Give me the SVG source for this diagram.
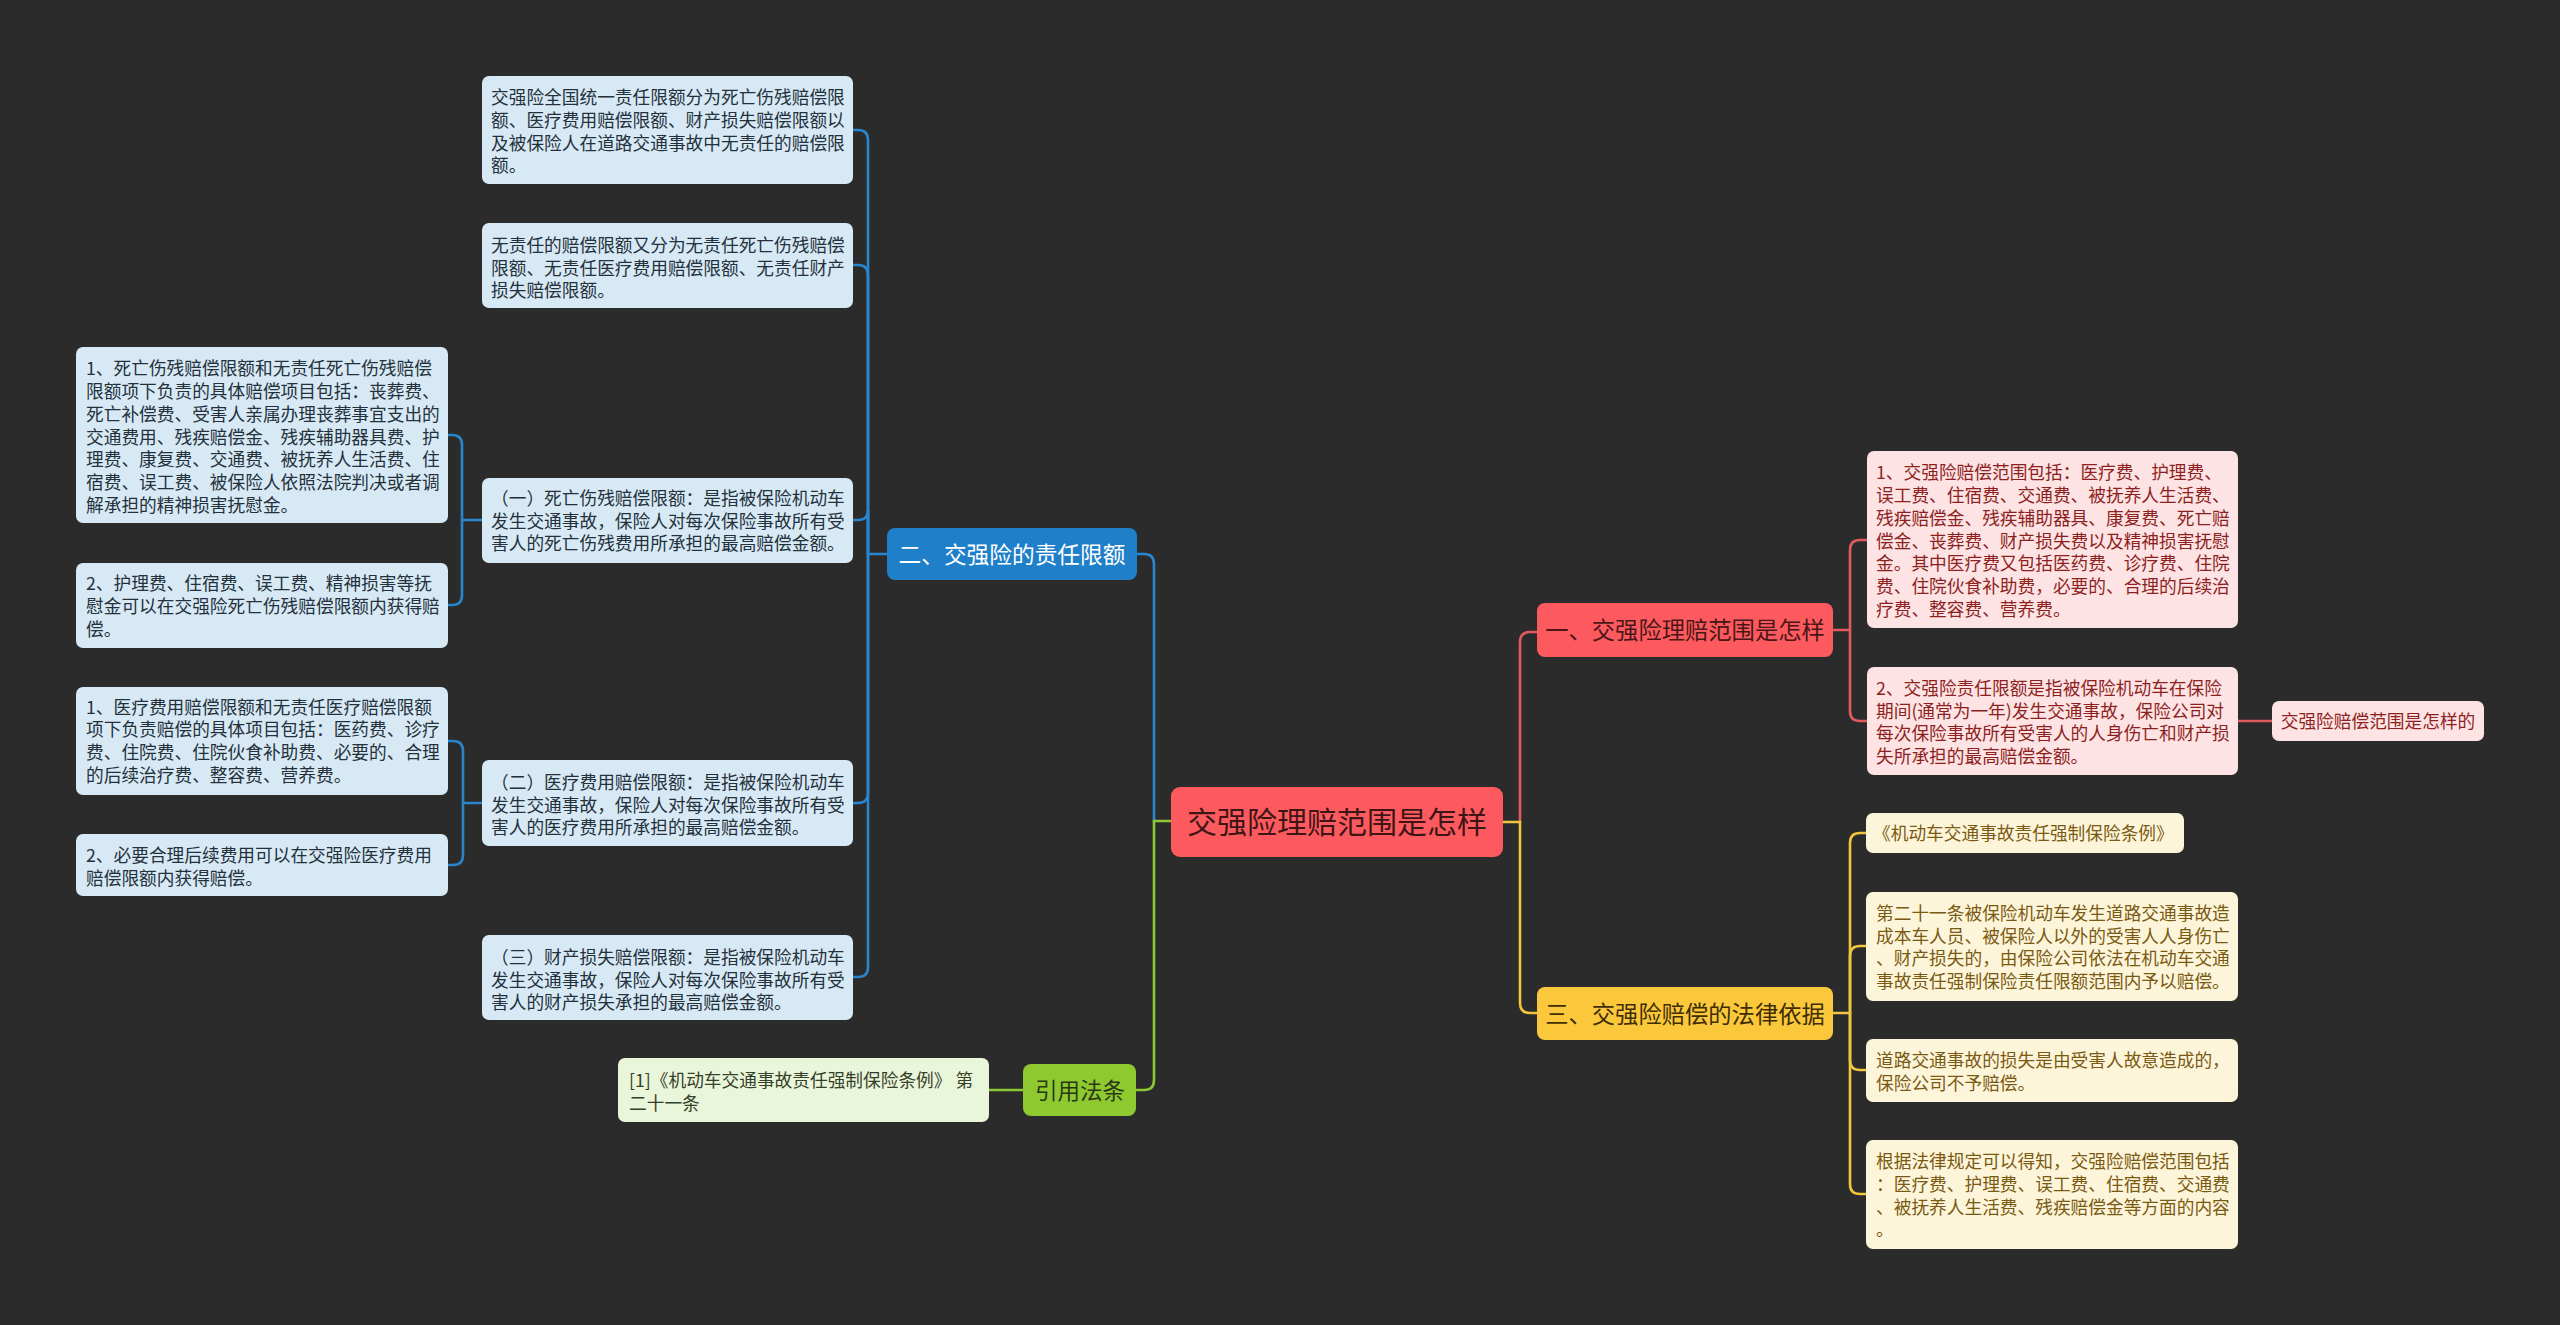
<svg xmlns="http://www.w3.org/2000/svg" width="2560" height="1325" viewBox="0 0 2560 1325">
<style>
text{font-family:"Noto Sans CJK SC","Noto Sans",sans-serif;}
.lf{font-size:17.7px;}
.bl{fill:#d8e9f6;}
.blt{fill:#24313b;}
.rd{fill:#fde3e3;}
.rdt{fill:#8e1f1f;}
.yl{fill:#fdf5da;}
.ylt{fill:#7a5a12;}
.gr{fill:#eaf6d9;}
.grt{fill:#34402a;}
.c{fill:none;stroke-width:2.6;stroke-linecap:round;}
.cb{stroke:#2a86cc;}
.cr{stroke:#e05a5e;}
.cy{stroke:#f2c53f;}
.cg{stroke:#8cc834;}
</style>
<rect x="0" y="0" width="2560" height="1325" fill="#2b2b2b"/>

<g id="connectors">
  <path class="c cb" d="M1154,821 V564 Q1154,554 1144,554 H1137"/>
  <path class="c cg" d="M1171,821 H1154 V1080 Q1154,1090 1144,1090 H1136"/>
  <path class="c cg" d="M1023,1090 H989"/>
  <path class="c cb" d="M887,554 H868 V140 Q868,130 858,130 H853"/>
  <path class="c cb" d="M868,554 V275 Q868,265 858,265 H853"/>
  <path class="c cb" d="M868,554 V510 Q868,520 858,520 H853"/>
  <path class="c cb" d="M868,554 V793 Q868,803 858,803 H853"/>
  <path class="c cb" d="M868,554 V967 Q868,977 858,977 H853"/>
  <path class="c cb" d="M482,520 H462 V445 Q462,435 452,435 H448"/>
  <path class="c cb" d="M462,520 V595 Q462,605 452,605 H448"/>
  <path class="c cb" d="M482,803 H463 V751 Q463,741 453,741 H448"/>
  <path class="c cb" d="M463,803 V855 Q463,865 453,865 H448"/>
  <path class="c cr" d="M1520,822 V642 Q1520,632 1530,632 H1537"/>
  <path class="c cy" d="M1503,822 H1520 V1003 Q1520,1013 1530,1013 H1537"/>
  <path class="c cr" d="M1833,630 H1850 V550 Q1850,540 1860,540 H1867"/>
  <path class="c cr" d="M1850,630 V711 Q1850,721 1860,721 H1867"/>
  <path class="c cr" d="M2238,721 H2272"/>
  <path class="c cy" d="M1833,1013 H1850 V843 Q1850,833 1860,833 H1866"/>
  <path class="c cy" d="M1850,1013 V956 Q1850,946 1860,946 H1866"/>
  <path class="c cy" d="M1850,1013 V1060 Q1850,1070 1860,1070 H1866"/>
  <path class="c cy" d="M1850,1013 V1184 Q1850,1194 1860,1194 H1866"/>
</g>

<g id="center">
  <rect x="1171" y="787" width="332" height="70" rx="9" fill="#fd5a5f"/>
  <text x="1337" y="833" font-size="30" text-anchor="middle" fill="#3e1515">交强险理赔范围是怎样</text>
</g>

<g id="branch-2">
  <rect x="887" y="528" width="250" height="52" rx="8" fill="#1f80c9"/>
  <text x="1012" y="562.5" font-size="22.7" text-anchor="middle" fill="#ffffff">二、交强险的责任限额</text>
</g>
<g id="branch-cite">
  <rect x="1023" y="1064" width="113" height="52" rx="8" fill="#8dc92f"/>
  <text x="1080" y="1098.5" font-size="22.5" text-anchor="middle" fill="#2b3815">引用法条</text>
</g>
<g id="branch-1">
  <rect x="1537" y="603" width="296" height="54" rx="8" fill="#fd5a5f"/>
  <text x="1685" y="639" font-size="23.3" text-anchor="middle" fill="#4a1616">一、交强险理赔范围是怎样</text>
</g>
<g id="branch-3">
  <rect x="1537" y="987" width="296" height="53" rx="8" fill="#fbc83c"/>
  <text x="1685" y="1022.5" font-size="23.3" text-anchor="middle" fill="#3f2e05">三、交强险赔偿的法律依据</text>
</g>

<g id="leaf-l1">
  <rect class="bl" x="482" y="76" width="371" height="108" rx="7"/>
  <text class="lf blt" x="491"><tspan x="491" y="103.5">交强险全国统一责任限额分为死亡伤残赔偿限</tspan><tspan x="491" y="126.5">额、医疗费用赔偿限额、财产损失赔偿限额以</tspan><tspan x="491" y="149.5">及被保险人在道路交通事故中无责任的赔偿限</tspan><tspan x="491" y="171.5">额。</tspan></text>
</g>
<g id="leaf-l2">
  <rect class="bl" x="482" y="223" width="371" height="85" rx="7"/>
  <text class="lf blt"><tspan x="491" y="251.5">无责任的赔偿限额又分为无责任死亡伤残赔偿</tspan><tspan x="491" y="274.5">限额、无责任医疗费用赔偿限额、无责任财产</tspan><tspan x="491" y="296.5">损失赔偿限额。</tspan></text>
</g>
<g id="leaf-l3">
  <rect class="bl" x="482" y="478" width="371" height="85" rx="7"/>
  <text class="lf blt"><tspan x="491" y="504.5">（一）死亡伤残赔偿限额：是指被保险机动车</tspan><tspan x="491" y="527.5">发生交通事故，保险人对每次保险事故所有受</tspan><tspan x="491" y="549.5">害人的死亡伤残费用所承担的最高赔偿金额。</tspan></text>
</g>
<g id="leaf-l4">
  <rect class="bl" x="482" y="760" width="371" height="86" rx="7"/>
  <text class="lf blt"><tspan x="491" y="788.5">（二）医疗费用赔偿限额：是指被保险机动车</tspan><tspan x="491" y="811.5">发生交通事故，保险人对每次保险事故所有受</tspan><tspan x="491" y="833.5">害人的医疗费用所承担的最高赔偿金额。</tspan></text>
</g>
<g id="leaf-l5">
  <rect class="bl" x="482" y="935" width="371" height="85" rx="7"/>
  <text class="lf blt"><tspan x="491" y="963.5">（三）财产损失赔偿限额：是指被保险机动车</tspan><tspan x="491" y="986.5">发生交通事故，保险人对每次保险事故所有受</tspan><tspan x="491" y="1008.5">害人的财产损失承担的最高赔偿金额。</tspan></text>
</g>
<g id="leaf-d1">
  <rect class="bl" x="76" y="347" width="372" height="176" rx="7"/>
  <text class="lf blt"><tspan x="86" y="374.5">1、死亡伤残赔偿限额和无责任死亡伤残赔偿</tspan><tspan x="86" y="397.5">限额项下负责的具体赔偿项目包括：丧葬费、</tspan><tspan x="86" y="420.5">死亡补偿费、受害人亲属办理丧葬事宜支出的</tspan><tspan x="86" y="443.5">交通费用、残疾赔偿金、残疾辅助器具费、护</tspan><tspan x="86" y="465.5">理费、康复费、交通费、被抚养人生活费、住</tspan><tspan x="86" y="488.5">宿费、误工费、被保险人依照法院判决或者调</tspan><tspan x="86" y="511.5">解承担的精神损害抚慰金。</tspan></text>
</g>
<g id="leaf-d2">
  <rect class="bl" x="76" y="563" width="372" height="85" rx="7"/>
  <text class="lf blt"><tspan x="86" y="589.5">2、护理费、住宿费、误工费、精神损害等抚</tspan><tspan x="86" y="612.5">慰金可以在交强险死亡伤残赔偿限额内获得赔</tspan><tspan x="86" y="635.5">偿。</tspan></text>
</g>
<g id="leaf-d3">
  <rect class="bl" x="76" y="687" width="372" height="108" rx="7"/>
  <text class="lf blt"><tspan x="86" y="713.5">1、医疗费用赔偿限额和无责任医疗赔偿限额</tspan><tspan x="86" y="735.5">项下负责赔偿的具体项目包括：医药费、诊疗</tspan><tspan x="86" y="758.5">费、住院费、住院伙食补助费、必要的、合理</tspan><tspan x="86" y="781.5">的后续治疗费、整容费、营养费。</tspan></text>
</g>
<g id="leaf-d4">
  <rect class="bl" x="76" y="834" width="372" height="62" rx="7"/>
  <text class="lf blt"><tspan x="86" y="861.5">2、必要合理后续费用可以在交强险医疗费用</tspan><tspan x="86" y="884.5">赔偿限额内获得赔偿。</tspan></text>
</g>
<g id="leaf-cite">
  <rect class="gr" x="618" y="1058" width="371" height="64" rx="7"/>
  <text class="lf grt"><tspan x="629" y="1086.5">[1]《机动车交通事故责任强制保险条例》 第</tspan><tspan x="629" y="1109.5">二十一条</tspan></text>
</g>

<g id="leaf-r1">
  <rect class="rd" x="1867" y="451" width="371" height="177" rx="7"/>
  <text class="lf rdt"><tspan x="1876" y="478.5">1、交强险赔偿范围包括：医疗费、护理费、</tspan><tspan x="1876" y="501.5">误工费、住宿费、交通费、被抚养人生活费、</tspan><tspan x="1876" y="524.5">残疾赔偿金、残疾辅助器具、康复费、死亡赔</tspan><tspan x="1876" y="547.5">偿金、丧葬费、财产损失费以及精神损害抚慰</tspan><tspan x="1876" y="569.5">金。其中医疗费又包括医药费、诊疗费、住院</tspan><tspan x="1876" y="592.5">费、住院伙食补助费，必要的、合理的后续治</tspan><tspan x="1876" y="615.5">疗费、整容费、营养费。</tspan></text>
</g>
<g id="leaf-r2">
  <rect class="rd" x="1867" y="667" width="371" height="108" rx="7"/>
  <text class="lf rdt"><tspan x="1876" y="694.5">2、交强险责任限额是指被保险机动车在保险</tspan><tspan x="1876" y="717.5">期间(通常为一年)发生交通事故，保险公司对</tspan><tspan x="1876" y="739.5">每次保险事故所有受害人的人身伤亡和财产损</tspan><tspan x="1876" y="762.5">失所承担的最高赔偿金额。</tspan></text>
</g>
<g id="leaf-r3">
  <rect class="rd" x="2272" y="701" width="212" height="40" rx="7"/>
  <text class="lf rdt" x="2378" y="727.5" font-size="17.5" text-anchor="middle">交强险赔偿范围是怎样的</text>
</g>

<g id="leaf-y1">
  <rect class="yl" x="1866" y="813" width="318" height="40" rx="7"/>
  <text class="lf ylt" x="1873" y="839.5">《机动车交通事故责任强制保险条例》</text>
</g>
<g id="leaf-y2">
  <rect class="yl" x="1866" y="892" width="372" height="109" rx="7"/>
  <text class="lf ylt"><tspan x="1876" y="919.5">第二十一条被保险机动车发生道路交通事故造</tspan><tspan x="1876" y="942.5">成本车人员、被保险人以外的受害人人身伤亡</tspan><tspan x="1876" y="964.5">、财产损失的，由保险公司依法在机动车交通</tspan><tspan x="1876" y="987.5">事故责任强制保险责任限额范围内予以赔偿。</tspan></text>
</g>
<g id="leaf-y3">
  <rect class="yl" x="1866" y="1039" width="372" height="63" rx="7"/>
  <text class="lf ylt"><tspan x="1876" y="1066.5">道路交通事故的损失是由受害人故意造成的，</tspan><tspan x="1876" y="1089.5">保险公司不予赔偿。</tspan></text>
</g>
<g id="leaf-y4">
  <rect class="yl" x="1866" y="1140" width="372" height="109" rx="7"/>
  <text class="lf ylt"><tspan x="1876" y="1167.5">根据法律规定可以得知，交强险赔偿范围包括</tspan><tspan x="1876" y="1190.5">：医疗费、护理费、误工费、住宿费、交通费</tspan><tspan x="1876" y="1213.5">、被抚养人生活费、残疾赔偿金等方面的内容</tspan><tspan x="1876" y="1235.5">。</tspan></text>
</g>
</svg>
